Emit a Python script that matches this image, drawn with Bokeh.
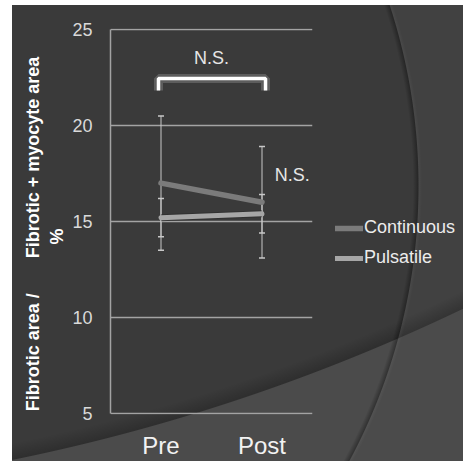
from bokeh.plotting import figure
from bokeh.layouts import row
from bokeh.models import (FactorRange, Range1d, FixedTicker, ColumnDataSource,
                          Whisker, TeeHead, Legend, LegendItem)
from bokeh.embed import file_html
from bokeh.resources import INLINE

# ---- data ----
categories = ["Pre", "Post"]
continuous = [17.0, 16.0]
continuous_err = [3.5, 2.9]
pulsatile = [15.2, 15.4]
pulsatile_err = [1.0, 1.0]
y_ticks = [5, 10, 15, 20, 25]
series_names = ["Continuous", "Pulsatile"]
ns_label = "N.S."

cont_color = "#7b7b7b"
puls_color = "#a6a6a6"

NB = "\u00a0"
y_title = "Fibrotic area /" + NB * 7 + "Fibrotic + myocyte area" + NB * 5 + "\n%" + NB * 6

H = 461
x_rng = FactorRange(*categories, range_padding=0)
y_rng = Range1d(4.95, 25.05)
p = figure(width=330, height=H, x_range=x_rng, y_range=y_rng,
           output_backend="svg", toolbar_location=None,
           min_border_left=110, min_border_right=18,
           min_border_top=28, min_border_bottom=47)

p.background_fill_alpha = 0
p.border_fill_alpha = 0
p.outline_line_color = None

# grid / axes
p.xgrid.grid_line_color = None
p.ygrid.grid_line_color = "#a3a3a3"
p.ygrid.grid_line_width = 1.5
p.ygrid.ticker = FixedTicker(ticks=y_ticks)

p.yaxis.ticker = FixedTicker(ticks=y_ticks)
p.yaxis.bounds = (5, 25)
p.yaxis.axis_line_color = "#a3a3a3"
p.yaxis.axis_line_width = 1.5
p.yaxis.major_tick_line_color = None
p.yaxis.minor_tick_line_color = None
p.yaxis.major_label_text_font = "Liberation Sans"
p.yaxis.major_label_text_font_size = "18px"
p.yaxis.major_label_text_color = "#d9d9d9"
p.yaxis.major_label_standoff = 12
p.yaxis.axis_label = y_title
p.yaxis.axis_label_text_font = "Liberation Sans"
p.yaxis.axis_label_text_font_style = "bold"
p.yaxis.axis_label_text_font_size = "18px"
p.yaxis.axis_label_text_color = "#ffffff"
p.yaxis.axis_label_standoff = 2

p.xaxis.axis_line_color = None
p.xaxis.major_tick_line_color = None
p.xaxis.minor_tick_line_color = None
p.xaxis.major_label_text_font = "Liberation Sans"
p.xaxis.major_label_text_font_size = "24px"
p.xaxis.major_label_text_color = "#f2f2f2"
p.xaxis.major_label_standoff = 11

# error bars
src_c = ColumnDataSource(dict(
    x=categories,
    upper=[m + e for m, e in zip(continuous, continuous_err)],
    lower=[m - e for m, e in zip(continuous, continuous_err)]))
src_p = ColumnDataSource(dict(
    x=categories,
    upper=[m + e for m, e in zip(pulsatile, pulsatile_err)],
    lower=[m - e for m, e in zip(pulsatile, pulsatile_err)]))
for src in (src_c, src_p):
    w = Whisker(base="x", upper="upper", lower="lower", source=src,
                line_color="#c8c8c8", line_width=1,
                upper_head=TeeHead(size=6, line_color="#c8c8c8", line_width=1.5),
                lower_head=TeeHead(size=6, line_color="#c8c8c8", line_width=1.5))
    p.add_layout(w)

# series lines
p.line(categories, continuous, line_color=cont_color, line_width=5.5, line_cap="round")
p.line(categories, pulsatile, line_color="#2c2c2c", line_width=7, line_alpha=0.6)
p.line(categories, pulsatile, line_color=puls_color, line_width=5, line_cap="round")

# significance bracket
bx = [("Pre", -0.025), ("Pre", -0.025), ("Post", 0.035), ("Post", 0.035)]
by = [21.82, 22.45, 22.45, 21.82]
p.line(bx, by, line_color="#ffffff", line_width=9, line_alpha=0.18)
p.line(bx, by, line_color="#ffffff", line_width=3.5)

p.text(x=[("Pre", 0.5)], y=[23.5], text=[ns_label], text_align="center",
       text_baseline="middle", text_font_size="18px", text_color="#e6e6e6",
       text_font={"value": "Liberation Sans"})
p.text(x=[("Post", 0.30)], y=[17.4], text=[ns_label], text_align="center",
       text_baseline="middle", text_font_size="18px", text_color="#e6e6e6",
       text_font={"value": "Liberation Sans"})

# legend panel (separate figure to the right, sharing the ranges)
q = figure(width=133, height=H, x_range=x_rng, y_range=y_rng,
           output_backend="svg", toolbar_location=None,
           min_border_left=0, min_border_right=0, min_border_top=0, min_border_bottom=0)
q.axis.visible = False
q.grid.visible = False
q.background_fill_alpha = 0
q.border_fill_alpha = 0
q.outline_line_color = None
lc = q.line(categories, continuous, line_color=cont_color, line_width=5.5,
            line_cap="round", visible=False)
lp = q.line(categories, pulsatile, line_color=puls_color, line_width=5,
            line_cap="round", visible=False)
legend = Legend(items=[LegendItem(label=series_names[0], renderers=[lc]),
                       LegendItem(label=series_names[1], renderers=[lp])],
                location=(5, 146), glyph_width=28, glyph_height=18,
                label_height=18, label_standoff=1, spacing=9, padding=0, margin=0,
                border_line_color=None, background_fill_alpha=0,
                label_text_font="Liberation Sans", label_text_font_size="18px",
                label_text_color="#ececec")
q.add_layout(legend)

layout = row(p, q, spacing=0)
layout.styles = {
    "background": (
        "linear-gradient(to right, #ffffff 0px, #ffffff 12px, transparent 12px),"
        "linear-gradient(to bottom, #ffffff 0px, #ffffff 5px, transparent 5px),"
        "radial-gradient(circle 585px at -163px 186px, transparent 576px, rgba(0,0,0,0.32) 581px, rgba(255,255,255,0.04) 582px, transparent 585px),"
        "radial-gradient(circle 1933px at -372px -1434px, transparent 1916px, rgba(0,0,0,0.2) 1932px, #4b4b4b 1933px),"
        "radial-gradient(circle 582px at -163px 186px, #3a3a3a 581px, #414141 582px)"
    )
}

open("out.html", "w").write(file_html(layout, INLINE))
